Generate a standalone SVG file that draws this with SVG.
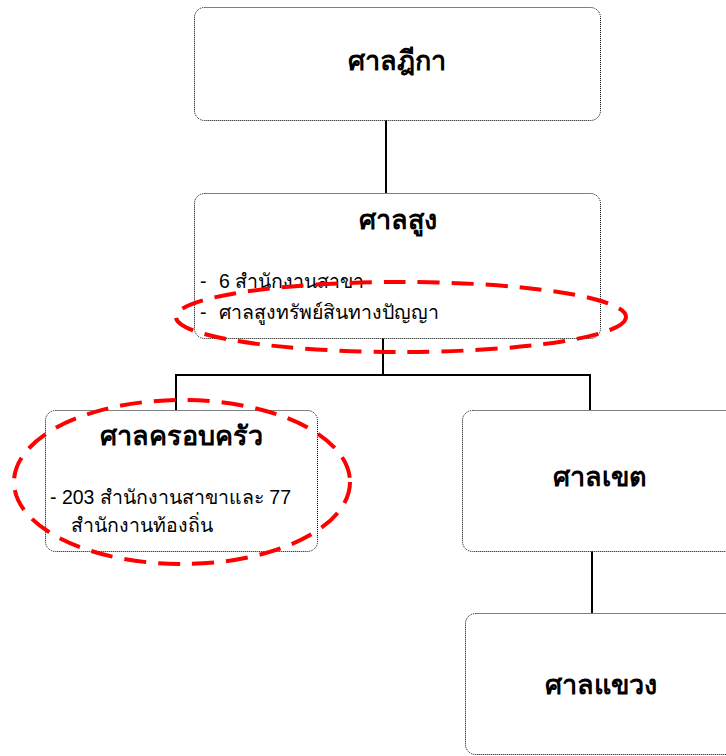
<svg xmlns="http://www.w3.org/2000/svg" width="726" height="756" viewBox="0 0 726 756">
<style>
.box{fill:#fff;stroke:#000;stroke-width:1;stroke-dasharray:1 1}
.ln{stroke:#000;stroke-width:2;fill:none}
.ttl{font-family:"Liberation Sans","Noto Sans",sans-serif;font-weight:bold;font-size:27px;fill:#000;text-anchor:middle}
.txt{font-family:"Liberation Sans","Noto Sans",sans-serif;font-size:19.5px;fill:#000}
.red{fill:none;stroke:#f00;stroke-width:4;stroke-dasharray:22 12}
</style>
<rect width="726" height="756" fill="#fff"/>
<g id="connectors">
<line class="ln" x1="386" y1="120" x2="386" y2="193"/>
<line class="ln" x1="383" y1="338" x2="383" y2="375"/>
<line class="ln" x1="175" y1="375" x2="591" y2="375"/>
<line class="ln" x1="176" y1="374" x2="176" y2="410"/>
<line class="ln" x1="590" y1="374" x2="590" y2="410"/>
<line class="ln" x1="592" y1="551" x2="592" y2="613"/>
</g>
<g id="supreme">
<rect class="box" x="194.5" y="7.5" width="406" height="113" rx="10"/>
<text class="ttl" x="397" y="70">ศาลฎีกา</text>
</g>
<g id="high">
<rect class="box" x="194.5" y="193.5" width="406" height="145" rx="10"/>
<text class="ttl" x="398" y="229">ศาลสูง</text>
<text class="txt" y="288"><tspan x="200">-</tspan><tspan x="219">6 สำนักงานสาขา</tspan></text>
<text class="txt" y="319"><tspan x="200">-</tspan><tspan x="219">ศาลสูงทรัพย์สินทางปัญญา</tspan></text>
</g>
<g id="family">
<rect class="box" x="45.5" y="410.5" width="272" height="141" rx="10"/>
<text class="ttl" x="181" y="445">ศาลครอบครัว</text>
<text class="txt" x="50" y="504">- 203 สำนักงานสาขาและ 77</text>
<text class="txt" x="71" y="532">สำนักงานท้องถิ่น</text>
</g>
<g id="district">
<rect class="box" x="462.5" y="410.5" width="280" height="141" rx="10"/>
<text class="ttl" x="600" y="486">ศาลเขต</text>
</g>
<g id="magistrate">
<rect class="box" x="465.5" y="613.5" width="280" height="141" rx="10"/>
<text class="ttl" x="601" y="694">ศาลแขวง</text>
</g>
<g id="highlights">
<ellipse class="red" cx="401" cy="317" rx="225" ry="35"/>
<ellipse class="red" cx="182" cy="482" rx="168" ry="82"/>
</g>
</svg>
